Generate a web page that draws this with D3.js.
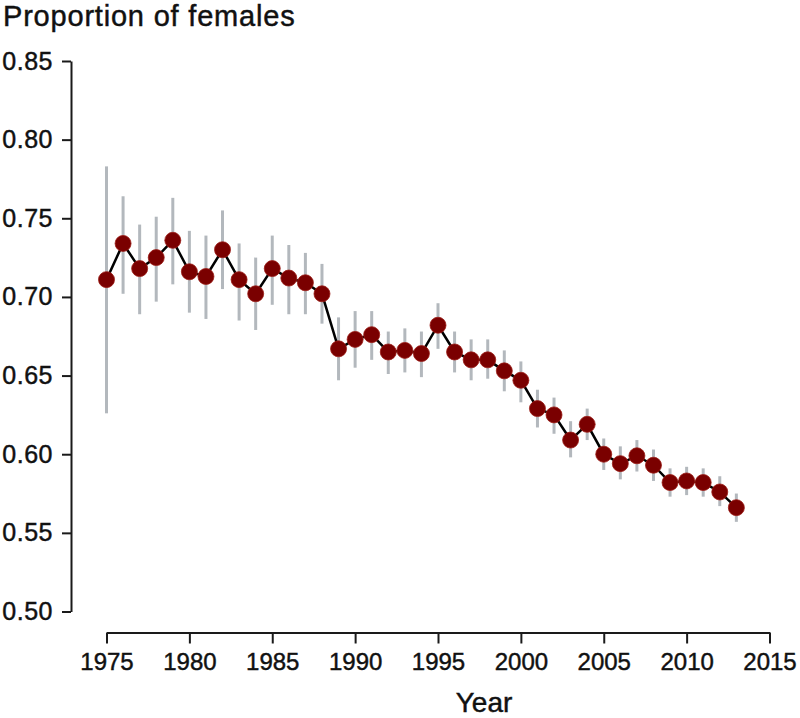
<!DOCTYPE html>
<html>
<head>
<meta charset="utf-8">
<script src="https://cdn.jsdelivr.net/npm/d3@7"></script>
<style>
  html, body { margin: 0; padding: 0; background: #fff; }
  svg { display: block; font-family: "Liberation Sans", Arial, Helvetica, sans-serif; }
</style>
</head>
<body>
<svg id="chart" width="800" height="718"></svg>
<script>
const years = [1975,1976,1977,1978,1979,1980,1981,1982,1983,1984,
               1985,1986,1987,1988,1989,1990,1991,1992,1993,1994,
               1995,1996,1997,1998,1999,2000,2001,2002,2003,2004,
               2005,2006,2007,2008,2009,2010,2011,2012,2013];
const proportion = [0.711,0.734,0.718,0.725,0.736,0.716,0.713,0.730,0.711,0.702,
                    0.718,0.712,0.709,0.702,0.667,0.673,0.676,0.665,0.666,0.664,
                    0.682,0.665,0.660,0.660,0.653,0.647,0.629,0.625,0.609,0.619,
                    0.600,0.594,0.599,0.593,0.582,0.583,0.582,0.576,0.566];
const upper = [0.783,0.764,0.746,0.751,0.763,0.742,0.739,0.755,0.734,0.725,
               0.739,0.733,0.728,0.721,0.687,0.691,0.691,0.678,0.680,0.678,
               0.696,0.678,0.673,0.673,0.666,0.659,0.641,0.636,0.621,0.629,
               0.610,0.605,0.609,0.603,0.591,0.592,0.591,0.586,0.575];
const lower = [0.626,0.702,0.689,0.697,0.708,0.690,0.686,0.705,0.685,0.679,
               0.695,0.689,0.689,0.683,0.647,0.655,0.660,0.651,0.652,0.649,
               0.667,0.652,0.647,0.648,0.640,0.633,0.617,0.613,0.598,0.609,
               0.590,0.584,0.589,0.583,0.573,0.574,0.573,0.567,0.557];
const xTicks = [1975,1980,1985,1990,1995,2000,2005,2010,2015];
const yTicks = [0.50,0.55,0.60,0.65,0.70,0.75,0.80,0.85];
const titleText = "Proportion of females";
const xTitle = "Year";

const svg = d3.select("#chart");
const x = d3.scaleLinear().domain([1975, 2015]).range([106.5, 769.5]);
const y = d3.scaleLinear().domain([0.5, 0.85]).range([611.5, 61]);

const data = years.map((yr, i) => ({yr, v: proportion[i], lo: lower[i], hi: upper[i]}));

function heavy(sel) {
  sel.attr("fill", "#111").attr("stroke", "#111").attr("stroke-width", 0.45)
     .attr("font-family", "'Liberation Sans', Arial, sans-serif");
}

// Y axis
const yAxis = svg.append("g")
  .attr("transform", "translate(71,0)")
  .call(d3.axisLeft(y).tickValues(yTicks).tickFormat(d3.format(".2f"))
        .tickSize(9).tickSizeOuter(0).tickPadding(9));
yAxis.selectAll("path, line").attr("stroke", "#1a1a1a").attr("stroke-width", 2);
yAxis.selectAll("text").attr("font-size", 25).attr("letter-spacing", 0.5).call(heavy);

// X axis
const xAxis = svg.append("g")
  .attr("transform", "translate(0,632.5)")
  .call(d3.axisBottom(x).tickValues(xTicks).tickFormat(d3.format("d"))
        .tickSize(11).tickSizeOuter(0).tickPadding(9));
xAxis.selectAll("path, line").attr("stroke", "#1a1a1a").attr("stroke-width", 2);
xAxis.selectAll("text").attr("font-size", 24).call(heavy);

// Error bars
svg.append("g").selectAll("line").data(data).join("line")
  .attr("x1", d => x(d.yr)).attr("x2", d => x(d.yr))
  .attr("y1", d => y(d.lo)).attr("y2", d => y(d.hi))
  .attr("stroke", "#b3b8bd").attr("stroke-width", 3);

// Line
svg.append("path").datum(data)
  .attr("fill", "none").attr("stroke", "#000").attr("stroke-width", 2.5)
  .attr("d", d3.line().x(d => x(d.yr)).y(d => y(d.v)));

// Points
svg.append("g").selectAll("circle").data(data).join("circle")
  .attr("cx", d => x(d.yr)).attr("cy", d => y(d.v)).attr("r", 8)
  .attr("fill", "#7a0000").attr("stroke", "#9a1a14").attr("stroke-width", 0.8);

// Titles
svg.append("text").attr("x", 3).attr("y", 26)
  .attr("font-size", 29).attr("letter-spacing", 0.8).call(heavy).text(titleText);
svg.append("text").attr("x", 484).attr("y", 712).attr("text-anchor", "middle")
  .attr("font-size", 28).call(heavy).text(xTitle);
</script>
</body>
</html>
